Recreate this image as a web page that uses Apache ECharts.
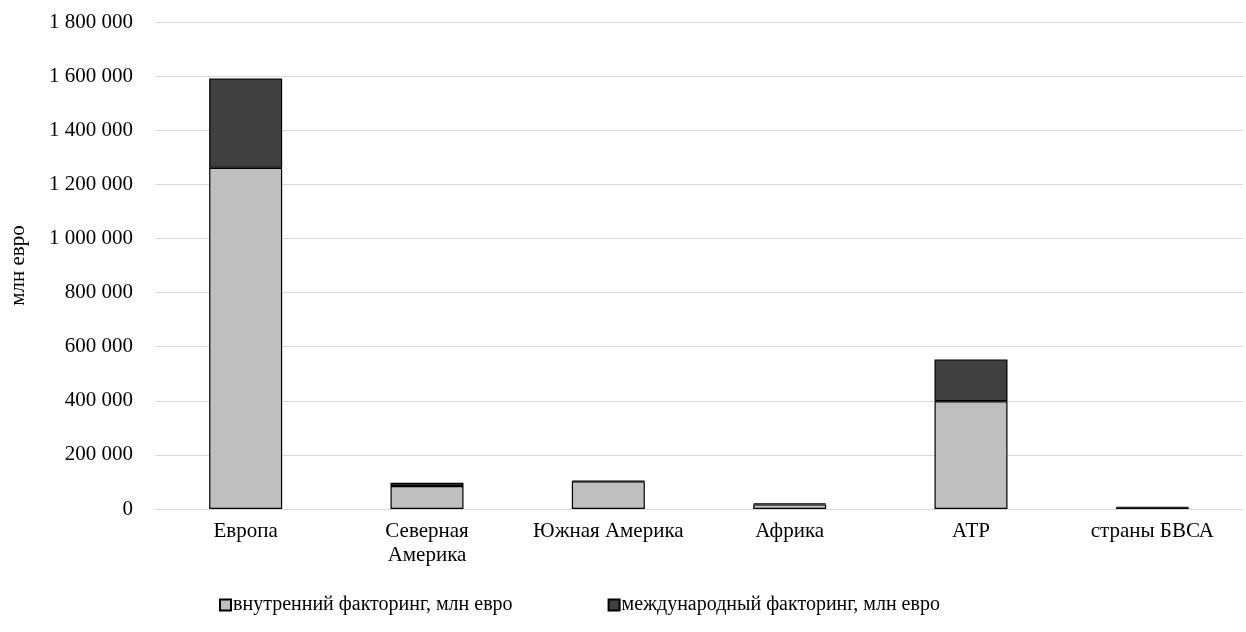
<!DOCTYPE html>
<html>
<head>
<meta charset="utf-8">
<script src="https://cdn.jsdelivr.net/npm/echarts@6/dist/echarts.min.js"></script>
<style>
  html, body { margin: 0; padding: 0; background: #ffffff; }
  #chart { width: 1246px; height: 632px; }
</style>
</head>
<body>
<div id="chart"></div>
<script>
// Регионы мира
const regions = ['Европа', 'Северная\nАмерика', 'Южная Америка', 'Африка', 'АТР', 'страны БВСА'];
// Объём факторинга, млн евро
const domestic = [1261000, 85000, 102000, 17000, 398000, 5000];
const international = [330000, 12000, 2500, 4000, 155000, 3000];
const seriesNames = ['внутренний факторинг, млн евро', 'международный факторинг, млн евро'];
const yTicks = { min: 0, max: 1800000, interval: 200000 };

const font = 'Liberation Serif, Times New Roman, serif';
const axisFs = 21;
const legendFs = 20;

function fmt(v) {
  return String(v).replace(/\B(?=(\d{3})+(?!\d))/g, ' ');
}

const chart = echarts.init(document.getElementById('chart'));
chart.setOption({
  animation: false,
  backgroundColor: '#ffffff',
  textStyle: { fontFamily: font, color: '#000' },
  grid: { left: 154, right: 3, top: 22, bottom: 123 },
  legend: {
    top: 590,
    left: 214,
    itemGap: 95,
    itemWidth: 11,
    itemHeight: 11,
    icon: 'rect',
    textStyle: { fontFamily: font, fontSize: legendFs, color: '#000', padding: [0, 0, 0, -3] },
    data: seriesNames
  },
  xAxis: {
    type: 'category',
    data: regions,
    axisLine: { lineStyle: { color: '#d9d9d9', width: 1 } },
    axisTick: { show: false },
    axisLabel: { interval: 0, fontFamily: font, fontSize: axisFs, color: '#000', margin: 10, lineHeight: 24 }
  },
  yAxis: {
    type: 'value',
    min: yTicks.min,
    max: yTicks.max,
    interval: yTicks.interval,
    name: 'млн евро',
    nameLocation: 'middle',
    nameGap: 126,
    nameRotate: 90,
    nameTextStyle: { fontFamily: font, fontSize: axisFs, color: '#000' },
    axisLine: { show: false },
    axisTick: { show: false },
    splitLine: { lineStyle: { color: '#d9d9d9', width: 1 } },
    axisLabel: { fontFamily: font, fontSize: axisFs, color: '#000', margin: 22, formatter: fmt }
  },
  series: [
    {
      name: seriesNames[0],
      type: 'bar',
      stack: 'total',
      barWidth: 73,
      data: domestic,
      itemStyle: { color: '#bfbfbf', borderColor: '#000', borderWidth: 1.2 }
    },
    {
      name: seriesNames[1],
      type: 'bar',
      stack: 'total',
      barWidth: 73,
      data: international,
      itemStyle: { color: '#404040', borderColor: '#000', borderWidth: 1.2 }
    }
  ]
});
</script>
</body>
</html>
